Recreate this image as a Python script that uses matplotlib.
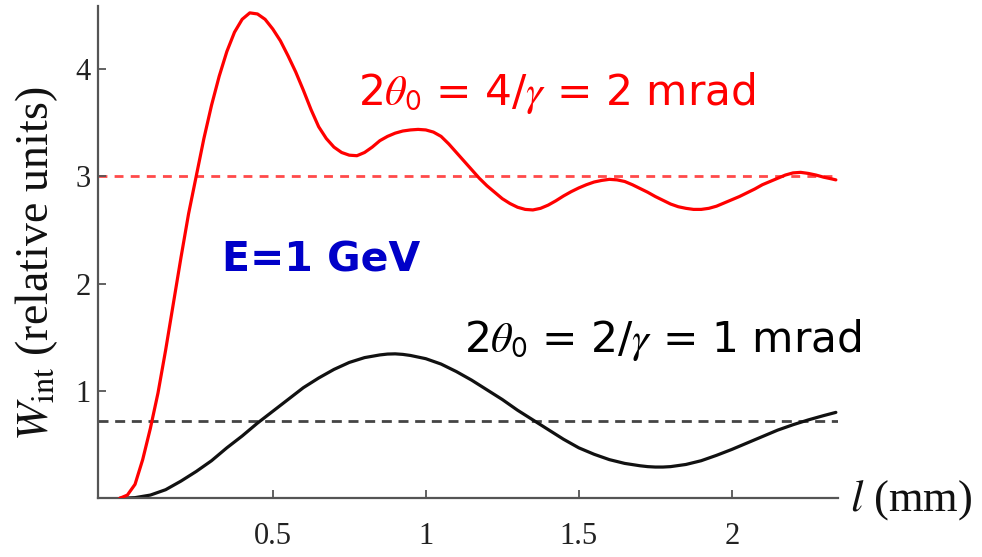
import numpy as np
import matplotlib
matplotlib.use("Agg")
import matplotlib.pyplot as plt

plt.rcParams['mathtext.fontset'] = 'stix'

# ---- data ----
l_red = [0.000, 0.025, 0.050, 0.075, 0.100, 0.125, 0.150, 0.175, 0.200, 0.225,
         0.250, 0.275, 0.300, 0.325, 0.350, 0.375, 0.400, 0.425, 0.450, 0.475,
         0.500, 0.525, 0.550, 0.575, 0.600, 0.625, 0.650, 0.675, 0.700, 0.725,
         0.750, 0.775, 0.800, 0.825, 0.850, 0.875, 0.900, 0.925, 0.950, 0.975,
         1.000, 1.025, 1.050, 1.075, 1.100, 1.125, 1.150, 1.175, 1.200, 1.225,
         1.250, 1.275, 1.300, 1.325, 1.350, 1.375, 1.400, 1.425, 1.450, 1.475,
         1.500, 1.525, 1.550, 1.575, 1.600, 1.625, 1.650, 1.675, 1.700, 1.725,
         1.750, 1.775, 1.800, 1.825, 1.850, 1.875, 1.900, 1.925, 1.950, 1.975,
         2.000, 2.025, 2.050, 2.075, 2.100, 2.125, 2.150, 2.175, 2.200, 2.225,
         2.250, 2.275, 2.300, 2.325, 2.340]
w_red = [0.00, 0.03, 0.13, 0.36, 0.65, 0.98, 1.38, 1.81, 2.24, 2.65,
         3.00, 3.35, 3.66, 3.93, 4.16, 4.34, 4.46, 4.52, 4.51, 4.46,
         4.37, 4.26, 4.12, 3.97, 3.80, 3.62, 3.46, 3.35, 3.27, 3.22,
         3.195, 3.19, 3.22, 3.27, 3.33, 3.37, 3.40, 3.42, 3.43, 3.435,
         3.43, 3.41, 3.37, 3.30, 3.22, 3.14, 3.06, 2.98, 2.91, 2.85,
         2.79, 2.745, 2.71, 2.69, 2.685, 2.70, 2.73, 2.77, 2.815, 2.855,
         2.89, 2.92, 2.945, 2.96, 2.97, 2.965, 2.95, 2.92, 2.885, 2.85,
         2.81, 2.775, 2.74, 2.715, 2.70, 2.69, 2.69, 2.70, 2.72, 2.75,
         2.78, 2.81, 2.845, 2.88, 2.92, 2.95, 2.98, 3.01, 3.03, 3.035,
         3.025, 3.01, 2.99, 2.975, 2.965]

l_black = [0.00, 0.05, 0.10, 0.15, 0.20, 0.25, 0.30, 0.35, 0.40, 0.45, 0.50, 0.55,
           0.60, 0.65, 0.70, 0.75, 0.80, 0.85, 0.875, 0.90, 0.925, 0.95, 1.00, 1.05,
           1.10, 1.15, 1.20, 1.25, 1.30, 1.35, 1.40, 1.45, 1.50, 1.55, 1.60, 1.65,
           1.70, 1.725, 1.75, 1.775, 1.80, 1.85, 1.90, 1.95, 2.00, 2.05, 2.10, 2.15,
           2.20, 2.25, 2.30, 2.34]
w_black = [0.00, 0.006, 0.03, 0.08, 0.16, 0.25, 0.35, 0.47, 0.58, 0.70, 0.81, 0.92,
           1.03, 1.12, 1.20, 1.265, 1.31, 1.335, 1.343, 1.345, 1.34, 1.33, 1.30, 1.25,
           1.18, 1.10, 1.01, 0.92, 0.82, 0.73, 0.64, 0.55, 0.47, 0.41, 0.36, 0.325,
           0.303, 0.295, 0.291, 0.291, 0.295, 0.315, 0.35, 0.40, 0.455, 0.515, 0.575, 0.635,
           0.685, 0.73, 0.77, 0.80]

avg_red = 3.0
avg_black = 0.72

x_ticks = [0.5, 1, 1.5, 2]
x_tick_labels = ["0.5", "1", "1.5", "2"]
y_ticks = [1, 2, 3, 4]
y_tick_labels = ["1", "2", "3", "4"]

label_red = r'2$\theta_{\mathsf{0}}$ = 4/$\gamma$ = 2 mrad'
label_black = r'2$\theta_{\mathsf{0}}$ = 2/$\gamma$ = 1 mrad'
label_energy = 'E=1 GeV'

# ---- figure ----
W, H = 982, 557
fig = plt.figure(figsize=(W / 100, H / 100), dpi=100)
x0, x1, ybot, ytop = 98, 838, 498.3, 6
ax = fig.add_axes([x0 / W, 1 - ybot / H, (x1 - x0) / W, (ybot - ytop) / H])

ax.set_xlim(-0.071, 2.347)
ax.set_ylim(0, 4.584)

ax.axhline(avg_red, color='#ff4a4a', lw=2.0, dashes=(3.2, 2.6), zorder=1)
ax.axhline(avg_black, color='#444444', lw=2.0, dashes=(3.6, 2.4), zorder=1)
ax.plot(l_black, w_black, color='#111111', lw=2.3, solid_capstyle='round',
        solid_joinstyle='round', zorder=2)
ax.plot(l_red, w_red, color='#ff0000', lw=2.3, solid_capstyle='round',
        solid_joinstyle='round', zorder=3)

for s in ['top', 'right']:
    ax.spines[s].set_visible(False)
for s in ['left', 'bottom']:
    ax.spines[s].set_color('#555555')
    ax.spines[s].set_linewidth(1.6)

ax.set_xticks(x_ticks)
ax.set_xticklabels(x_tick_labels)
ax.set_yticks(y_ticks)
ax.set_yticklabels(y_tick_labels)
ax.tick_params(axis='both', direction='in', length=6, width=1.3, color='#555555',
               labelcolor='#222222', labelsize=22)
ax.tick_params(axis='x', pad=17)
ax.tick_params(axis='y', pad=5)
for lab in ax.get_xticklabels() + ax.get_yticklabels():
    lab.set_family('Liberation Serif')

# axis titles
fig.text(37 / W, 1 - 264 / H, r'$W_{\rm int}$ (relative units)', rotation=90,
         ha='center', va='center', fontsize=33, family='Liberation Serif', color='#111111')
fig.text(850 / W, 1 - 500 / H, r'$l$ (mm)', ha='left', va='center',
         fontsize=32, family='Liberation Serif', color='#111111')

# annotations
fig.text(358 / W, 1 - 105 / H, label_red, ha='left', va='baseline',
         fontsize=30.5, family='DejaVu Sans', color='#ff0000')
fig.text(464 / W, 1 - 352 / H, label_black, ha='left', va='baseline',
         fontsize=30.5, family='DejaVu Sans', color='#000000')
fig.text(321 / W, 1 - 271 / H, label_energy, ha='center', va='baseline',
         fontsize=29.5, family='DejaVu Sans', fontweight='bold', color='#0000c8')

fig.savefig('out.png', dpi=100)
